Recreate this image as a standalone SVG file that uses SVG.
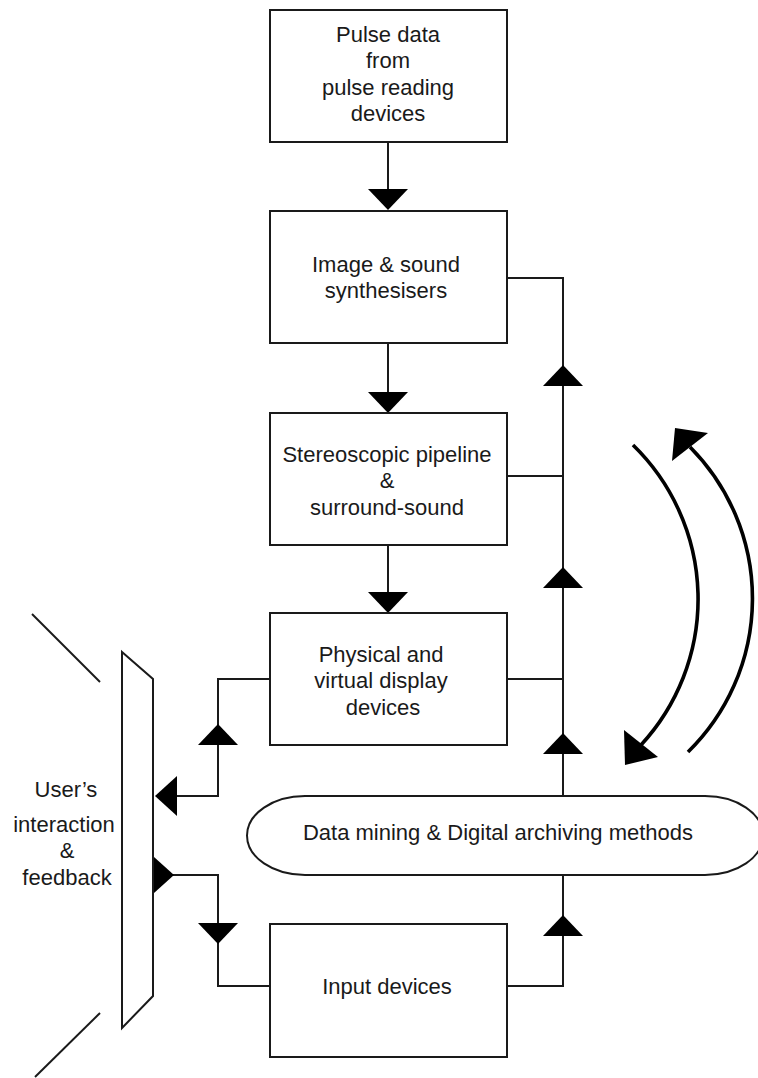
<svg xmlns="http://www.w3.org/2000/svg" xmlns:xlink="http://www.w3.org/1999/xlink" width="758" height="1078" viewBox="0 0 758 1078">
  <style>
    .box { fill: #fff; stroke: #1a1a1a; stroke-width: 2; }
    .line { fill: none; stroke: #1a1a1a; stroke-width: 2; }
    .arc { fill: none; stroke: #000; stroke-width: 3.6; stroke-linecap: butt; }
    .head { fill: #000; stroke: none; }
    .label { font-family: "Liberation Sans", Arial, Helvetica, sans-serif; font-size: 22px; fill: #1a1a1a; text-anchor: middle; }
  </style>
  <defs>
    <!-- filled triangular heads, origin at the tip -->
    <path id="head-down" d="M0,0 L-20,-21 L20,-21 Z"/>
    <path id="head-up" d="M0,0 L-20,21 L20,21 Z"/>
    <path id="head-left" d="M0,0 L22,-20 L22,20 Z"/>
    <path id="head-right" d="M0,0 L-20,-18 L-20,18 Z"/>
  </defs>
  <rect width="758" height="1078" fill="#fff"/>

  <g id="connectors">
    <!-- main downward flow -->
    <line class="line" x1="388" y1="142" x2="388" y2="200"/>
    <use href="#head-down" xlink:href="#head-down" class="head" x="388" y="210"/>
    <line class="line" x1="388" y1="343" x2="388" y2="403"/>
    <use href="#head-down" xlink:href="#head-down" class="head" x="388" y="413"/>
    <line class="line" x1="388" y1="545" x2="388" y2="603"/>
    <use href="#head-down" xlink:href="#head-down" class="head" x="388" y="613"/>

    <!-- feedback bus on the right -->
    <polyline class="line" points="507,278 563,278 563,796"/>
    <line class="line" x1="507" y1="476" x2="563" y2="476"/>
    <line class="line" x1="507" y1="679" x2="563" y2="679"/>
    <use href="#head-up" xlink:href="#head-up" class="head" x="563" y="365"/>
    <use href="#head-up" xlink:href="#head-up" class="head" x="563" y="567"/>
    <use href="#head-up" xlink:href="#head-up" class="head" x="563" y="733"/>
    <polyline class="line" points="507,986 563,986 563,875"/>
    <use href="#head-up" xlink:href="#head-up" class="head" x="563" y="915"/>

    <!-- display devices to user -->
    <polyline class="line" points="269,679 218,679 218,796 170,796"/>
    <use href="#head-up" xlink:href="#head-up" class="head" x="218" y="724"/>
    <use href="#head-left" xlink:href="#head-left" class="head" x="155" y="796"/>

    <!-- user to input devices -->
    <polyline class="line" points="160,875 218,875 218,986 269,986"/>
    <use href="#head-right" xlink:href="#head-right" class="head" x="174" y="875"/>
    <use href="#head-down" xlink:href="#head-down" class="head" x="218" y="944"/>

    <!-- cycle arrows -->
    <path class="arc" d="M633,445 A215,215 0 0 1 641,745"/>
    <polygon class="head" points="624,730 658,757 625,765"/>
    <path class="arc" d="M688,752 A215,215 0 0 0 690,447"/>
    <polygon class="head" points="672,461 708,433 675,428"/>
  </g>

  <g id="node-pulse-data">
    <rect class="box" x="270" y="10" width="237" height="132"/>
    <text class="label" x="388" y="42">Pulse data</text>
    <text class="label" x="388" y="68">from</text>
    <text class="label" x="388" y="94.5">pulse reading</text>
    <text class="label" x="388" y="121">devices</text>
  </g>

  <g id="node-synthesisers">
    <rect class="box" x="270" y="211" width="237" height="132"/>
    <text class="label" x="386" y="272">Image &amp; sound</text>
    <text class="label" x="386" y="298">synthesisers</text>
  </g>

  <g id="node-stereoscopic">
    <rect class="box" x="270" y="413" width="237" height="132"/>
    <text class="label" x="387" y="462">Stereoscopic pipeline</text>
    <text class="label" x="387" y="488">&amp;</text>
    <text class="label" x="387" y="515">surround-sound</text>
  </g>

  <g id="node-display">
    <rect class="box" x="270" y="613" width="237" height="132"/>
    <text class="label" x="381" y="662">Physical and</text>
    <text class="label" x="381" y="688">virtual display</text>
    <text class="label" x="383" y="715">devices</text>
  </g>

  <g id="node-data-mining">
    <rect class="box" x="247" y="796" width="516" height="79" rx="58" ry="39.5"/>
    <text class="label" x="498" y="840">Data mining &amp; Digital archiving methods</text>
  </g>

  <g id="node-input">
    <rect class="box" x="270" y="924" width="237" height="133"/>
    <text class="label" x="387" y="994">Input devices</text>
  </g>

  <g id="node-user">
    <line class="line" x1="32" y1="614" x2="100" y2="682"/>
    <line class="line" x1="100" y1="1013" x2="35" y2="1077"/>
    <polygon class="box" points="122,652 153,679 153,996 122,1028"/>
    <text class="label" x="66" y="797">User’s</text>
    <text class="label" x="64" y="832">interaction</text>
    <text class="label" x="67" y="858">&amp;</text>
    <text class="label" x="67" y="885">feedback</text>
  </g>
</svg>
